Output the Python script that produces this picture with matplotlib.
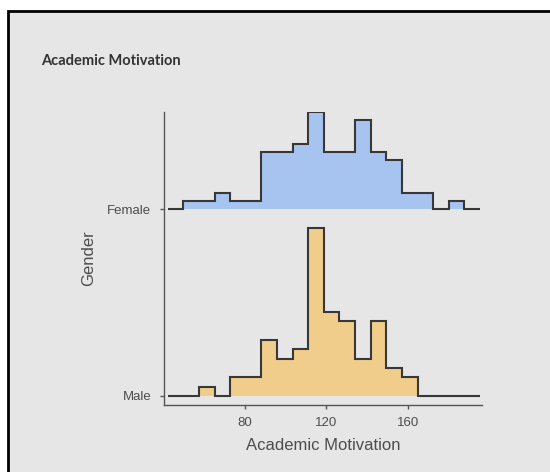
import numpy as np
import matplotlib.pyplot as plt
from matplotlib.patches import Rectangle

plt.rcParams['font.family'] = ['Liberation Sans', 'DejaVu Sans']

# histogram bins (Academic Motivation score)
bin_start = 42.0
bin_width = 7.67
female_counts = [0, 1, 1, 2, 1, 1, 7, 7, 8, 12, 7, 7, 11, 7, 6, 2, 2, 0, 1, 0]
male_counts = [0, 0, 1, 0, 2, 2, 6, 4, 5, 18, 9, 8, 4, 8, 3, 2, 0, 0, 0, 0]
groups = ['Male', 'Female']
fills = {'Female': '#a6c4ef', 'Male': '#f0cd8a'}

edges = bin_start + bin_width * np.arange(len(female_counts) + 1)
dens = {}
for g, c in zip(['Female', 'Male'], [female_counts, male_counts]):
    c = np.array(c, dtype=float)
    dens[g] = c / (c.sum() * bin_width)
scale = 0.9 / max(d.max() for d in dens.values())

fig = plt.figure(figsize=(5.5, 4.72), dpi=100)
fig.patch.set_facecolor('white')
fig.patches.append(Rectangle((8 / 550, -0.1), 1.2, 1.1 - 11 / 472,
                             transform=fig.transFigure, facecolor='#e6e6e6',
                             edgecolor='black', linewidth=2, zorder=-10))

ax = fig.add_axes([164 / 550, 1 - 405 / 472, 318 / 550, 293 / 472])
ax.set_facecolor('none')

# top ridge first, lower ridge drawn over it
for i in [1, 0]:
    g = groups[i]
    base = i + 1
    top = base + dens[g] * scale
    ax.stairs(top, edges, baseline=base, fill=True, color=fills[g], linewidth=0)
    ax.stairs(top, edges, baseline=None, color='#383838', linewidth=1.5)

ax.set_xlim(40.2, 196.4)
ax.set_ylim(1 - 9 / 187, 2 + 97 / 187)
ax.set_xticks([80, 120, 160])
ax.set_yticks([1, 2])
ax.set_yticklabels(groups)

for s in ['top', 'right']:
    ax.spines[s].set_visible(False)
for s in ['left', 'bottom']:
    ax.spines[s].set_color('#555555')
    ax.spines[s].set_linewidth(1.0)
ax.tick_params(axis='both', colors='#555555', length=3, width=1,
               labelsize=9.5, labelcolor='#4d4d4d')
ax.tick_params(axis='x', pad=6)
ax.tick_params(axis='y', pad=6)

ax.set_xlabel('Academic Motivation', fontsize=12, color='#4d4d4d', labelpad=6)
ax.set_ylabel('Gender', fontsize=12, color='#4d4d4d', labelpad=8)

fig.text(41 / 550, 1 - 61 / 472, 'Academic Motivation', family='Lato',
         fontweight='bold', fontsize=10.5, color='#333333', va='center')

fig.savefig('out.png', dpi=100, facecolor=fig.get_facecolor())
